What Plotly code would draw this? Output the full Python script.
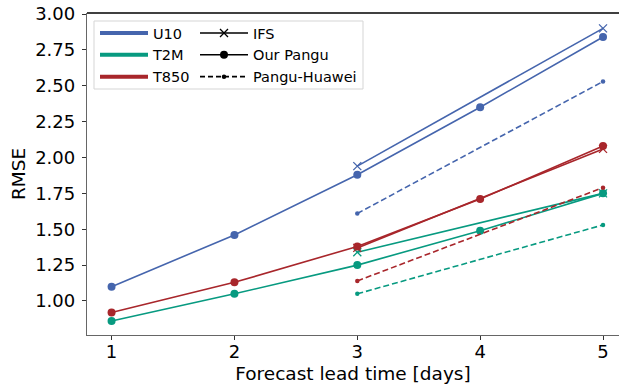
import plotly.graph_objects as go

days_all = [1, 2, 3, 4, 5]
days_ref = [3, 5]
u10_pangu = [1.10, 1.46, 1.88, 2.35, 2.84]
t2m_pangu = [0.86, 1.05, 1.25, 1.49, 1.75]
t850_pangu = [0.92, 1.13, 1.38, 1.71, 2.08]
u10_ifs = [1.94, 2.90]
t2m_ifs = [1.34, 1.75]
t850_ifs = [1.37, 2.06]
u10_huawei = [1.61, 2.53]
t2m_huawei = [1.05, 1.53]
t850_huawei = [1.14, 1.79]

variables = ["U10", "T2M", "T850"]
colors = {"U10": "#4565AD", "T2M": "#079A80", "T850": "#A8262B"}
pangu = {"U10": u10_pangu, "T2M": t2m_pangu, "T850": t850_pangu}
ifs = {"U10": u10_ifs, "T2M": t2m_ifs, "T850": t850_ifs}
huawei = {"U10": u10_huawei, "T2M": t2m_huawei, "T850": t850_huawei}

fig = go.Figure()
for v in variables:
    c = colors[v]
    fig.add_trace(go.Scatter(x=days_ref, y=ifs[v], mode="lines+markers",
                             line=dict(color=c, width=1.6),
                             marker=dict(symbol="x-thin", size=8, line=dict(color=c, width=1.3)),
                             showlegend=False))
    fig.add_trace(go.Scatter(x=days_all, y=pangu[v], mode="lines+markers",
                             line=dict(color=c, width=1.6),
                             marker=dict(symbol="circle", size=8, color=c),
                             showlegend=False))
    fig.add_trace(go.Scatter(x=days_ref, y=huawei[v], mode="lines+markers",
                             line=dict(color=c, width=1.6, dash="6px,3px"),
                             marker=dict(symbol="circle", size=4.5, color=c),
                             showlegend=False))

# legend entries (column 1: variables)
for v in variables:
    fig.add_trace(go.Scatter(x=[None], y=[None], mode="lines", name=v,
                             line=dict(color=colors[v], width=4), legend="legend"))
# legend entries (column 2: sources)
fig.add_trace(go.Scatter(x=[None], y=[None], mode="lines+markers", name="IFS",
                         line=dict(color="black", width=1.6),
                         marker=dict(symbol="x-thin", size=8, line=dict(color="black", width=1.3)),
                         legend="legend2"))
fig.add_trace(go.Scatter(x=[None], y=[None], mode="lines+markers", name="Our Pangu",
                         line=dict(color="black", width=1.6),
                         marker=dict(symbol="circle", size=8, color="black"),
                         legend="legend2"))
fig.add_trace(go.Scatter(x=[None], y=[None], mode="lines+markers", name="Pangu-Huawei",
                         line=dict(color="black", width=1.6, dash="5px,3px"),
                         marker=dict(symbol="circle", size=4.5, color="black"),
                         legend="legend2"))

W, H = 619, 387
ml, mr, mt, mb = 87, 0, 13, 52
pw, ph = W - ml - mr, H - mt - mb

def px_x(p):
    return (p - ml) / pw

def px_y(p):
    return 1 - (p - mt) / ph

font = dict(family="DejaVu Sans", color="black")
legfont = dict(family="DejaVu Sans", size=14.5, color="black")

fig.update_layout(
    width=W, height=H,
    margin=dict(l=ml, r=mr, t=mt, b=mb),
    paper_bgcolor="white", plot_bgcolor="white",
    font=font,
    xaxis=dict(range=[0.8, 5.13], tickmode="array", tickvals=days_all,
               ticktext=[str(d) for d in days_all],
               showgrid=False, zeroline=False, showline=True, linecolor="#666", linewidth=1.3,
               ticks="outside", ticklen=4, tickcolor="#333", tickwidth=1,
               tickfont=dict(size=18), ticklabelstandoff=-4,
               title=dict(text="Forecast lead time [days]", font=dict(size=18.5), standoff=6)),
    yaxis=dict(range=[0.763, 3.007], tickmode="array",
               tickvals=[1.0, 1.25, 1.5, 1.75, 2.0, 2.25, 2.5, 2.75, 3.0],
               ticktext=["1.00", "1.25", "1.50", "1.75", "2.00", "2.25", "2.50", "2.75", "3.00"],
               showgrid=False, zeroline=False, showline=True, linecolor="#666", linewidth=1.3,
               ticks="outside", ticklen=4, tickcolor="#333", tickwidth=1,
               tickfont=dict(size=18), ticklabelstandoff=3,
               title=dict(text="RMSE", font=dict(size=18.5), standoff=4)),
    legend=dict(x=px_x(95), y=px_y(17), xanchor="left", yanchor="top",
                bgcolor="rgba(0,0,0,0)", borderwidth=0, font=legfont,
                itemwidth=48, tracegroupgap=0),
    legend2=dict(x=px_x(195), y=px_y(17), xanchor="left", yanchor="top",
                 bgcolor="rgba(0,0,0,0)", borderwidth=0, font=legfont,
                 itemwidth=48, tracegroupgap=0),
    shapes=[
        dict(type="line", xref="paper", yref="paper", x0=0, x1=1, y0=1, y1=1,
             line=dict(color="black", width=1.6)),
        dict(type="rect", xref="paper", yref="paper",
             x0=px_x(94), x1=px_x(363), y0=px_y(89), y1=px_y(21),
             line=dict(color="#d5d5d5", width=1), fillcolor="rgba(255,255,255,0.8)",
             layer="above"),
    ],
)

fig.write_html("out.html")
